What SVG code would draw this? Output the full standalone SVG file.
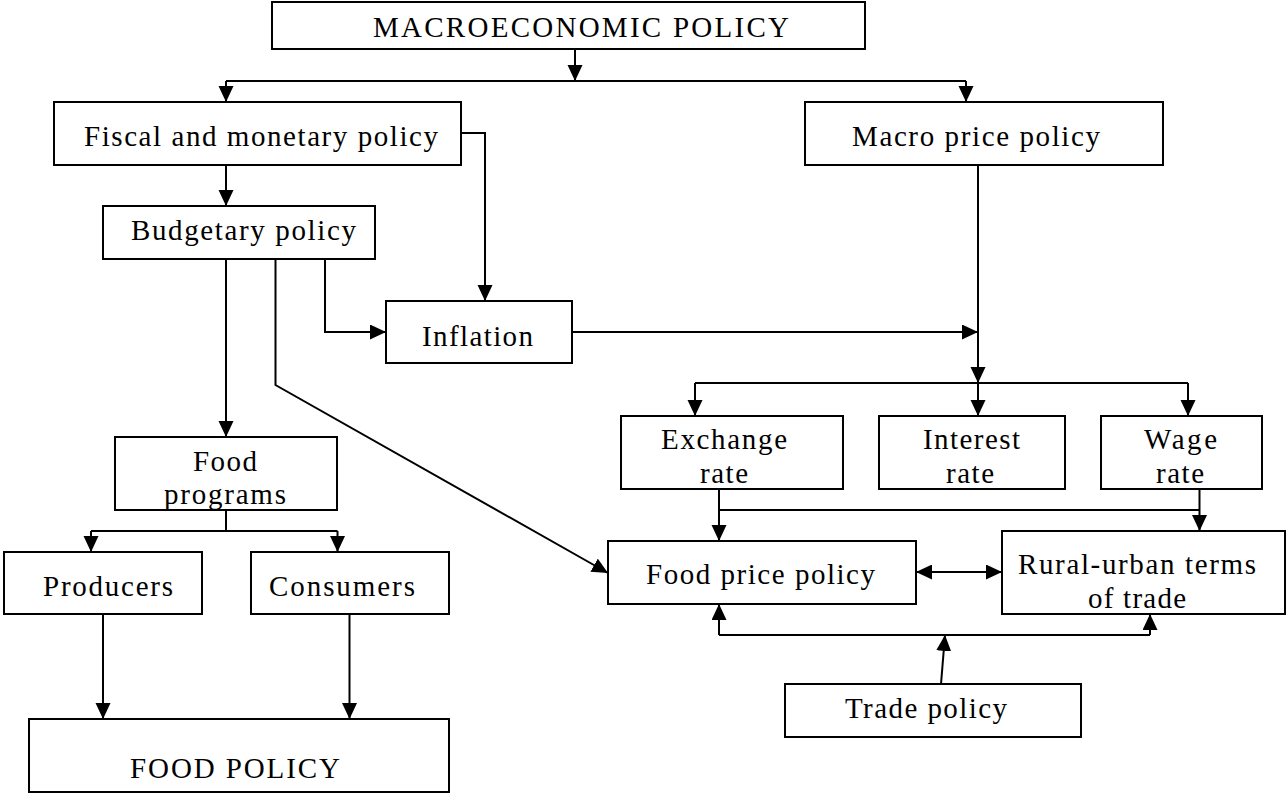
<svg xmlns="http://www.w3.org/2000/svg" width="1287" height="794" viewBox="0 0 1287 794">
<defs>
<marker id="ah" markerUnits="userSpaceOnUse" markerWidth="18" markerHeight="18" refX="16" refY="7.5" orient="auto">
<path d="M0,0 L16,7.5 L0,15 z" fill="#000"/>
</marker>
<marker id="ahs" markerUnits="userSpaceOnUse" markerWidth="18" markerHeight="18" refX="0" refY="7.5" orient="auto">
<path d="M16,0 L0,7.5 L16,15 z" fill="#000"/>
</marker>
<style>
.b{fill:#fff;stroke:#000;stroke-width:2}
.t{font-family:"Liberation Serif","Times New Roman",serif;font-size:29px;fill:#000}
.c{fill:none;stroke:#000;stroke-width:2}
.a{fill:none;stroke:#000;stroke-width:2;marker-end:url(#ah)}
</style>
</defs>
<rect width="1287" height="794" fill="#fff"/>
<g id="connectors">
<path class="a" d="M575,49 V81"/>
<path class="c" d="M226,81 H966"/>
<path class="a" d="M226,81 V102"/>
<path class="a" d="M966,81 V102"/>
<path class="a" d="M226,165 V206"/>
<path class="a" d="M461,133 H485 V301"/>
<path class="a" d="M226,259 V437"/>
<path class="a" d="M325,259 V332 H386"/>
<path class="a" d="M275.5,259 V385 L608,573"/>
<path class="a" d="M572,332 H978"/>
<path class="a" d="M978,165 V383"/>
<path class="c" d="M695,383 H1188"/>
<path class="a" d="M695,383 V416"/>
<path class="a" d="M978,383 V416"/>
<path class="a" d="M1188,383 V416"/>
<path class="a" d="M719,489 V541"/>
<path class="c" d="M719,510 H1199.5"/>
<path class="a" d="M1199.5,489 V531"/>
<path class="a" style="marker-start:url(#ahs)" d="M916,572 H1002"/>
<path class="c" d="M719,635 H1150"/>
<path class="a" d="M719,635 V604"/>
<path class="a" d="M1150,635 V614"/>
<path class="a" d="M941,684 L945,635"/>
<path class="c" d="M226,510 V531"/>
<path class="c" d="M91,531 H337.5"/>
<path class="a" d="M91,531 V552"/>
<path class="a" d="M337.5,531 V552"/>
<path class="a" d="M103,614 V719"/>
<path class="a" d="M349.5,614 V719"/>
</g>
<g id="macro"><rect class="b" x="272" y="2" width="593" height="47"/><text class="t" x="373" y="37" textLength="416" lengthAdjust="spacing">MACROECONOMIC POLICY</text></g>
<g id="fiscal"><rect class="b" x="54" y="102" width="407" height="63"/><text class="t" x="84" y="146" textLength="354" lengthAdjust="spacing">Fiscal and monetary policy</text></g>
<g id="macroprice"><rect class="b" x="805" y="102" width="358" height="63"/><text class="t" x="852" y="146" textLength="248" lengthAdjust="spacing">Macro price policy</text></g>
<g id="budgetary"><rect class="b" x="103" y="206" width="272" height="53"/><text class="t" x="131" y="240" textLength="225" lengthAdjust="spacing">Budgetary policy</text></g>
<g id="inflation"><rect class="b" x="386" y="301" width="186" height="62"/><text class="t" x="422" y="346" textLength="111" lengthAdjust="spacing">Inflation</text></g>
<g id="exchange"><rect class="b" x="621" y="416" width="222" height="73"/><text class="t" x="661" y="449" textLength="126" lengthAdjust="spacing">Exchange</text><text class="t" x="700" y="483" textLength="48" lengthAdjust="spacing">rate</text></g>
<g id="interest"><rect class="b" x="879" y="416" width="186" height="73"/><text class="t" x="923" y="449" textLength="97" lengthAdjust="spacing">Interest</text><text class="t" x="946" y="483" textLength="48" lengthAdjust="spacing">rate</text></g>
<g id="wage"><rect class="b" x="1101" y="416" width="161" height="73"/><text class="t" x="1144" y="449" textLength="73" lengthAdjust="spacing">Wage</text><text class="t" x="1156" y="483" textLength="48" lengthAdjust="spacing">rate</text></g>
<g id="foodprograms"><rect class="b" x="115" y="437" width="222" height="73"/><text class="t" x="193" y="471" textLength="64" lengthAdjust="spacing">Food</text><text class="t" x="164" y="504" textLength="122" lengthAdjust="spacing">programs</text></g>
<g id="producers"><rect class="b" x="4" y="552" width="198" height="62"/><text class="t" x="43" y="596" textLength="130" lengthAdjust="spacing">Producers</text></g>
<g id="consumers"><rect class="b" x="251" y="552" width="198" height="62"/><text class="t" x="269" y="596" textLength="146" lengthAdjust="spacing">Consumers</text></g>
<g id="foodprice"><rect class="b" x="608" y="541" width="308" height="63"/><text class="t" x="646" y="584" textLength="229" lengthAdjust="spacing">Food price policy</text></g>
<g id="rural"><rect class="b" x="1002" y="531" width="283" height="83"/><text class="t" x="1018" y="574" textLength="238" lengthAdjust="spacing">Rural-urban terms</text><text class="t" x="1088" y="608" textLength="98" lengthAdjust="spacing">of trade</text></g>
<g id="trade"><rect class="b" x="785" y="684" width="296" height="53"/><text class="t" x="845" y="718" textLength="162" lengthAdjust="spacing">Trade policy</text></g>
<g id="foodpolicy"><rect class="b" x="29" y="719" width="420" height="73"/><text class="t" x="130" y="778" textLength="210" lengthAdjust="spacing">FOOD POLICY</text></g>
</svg>
